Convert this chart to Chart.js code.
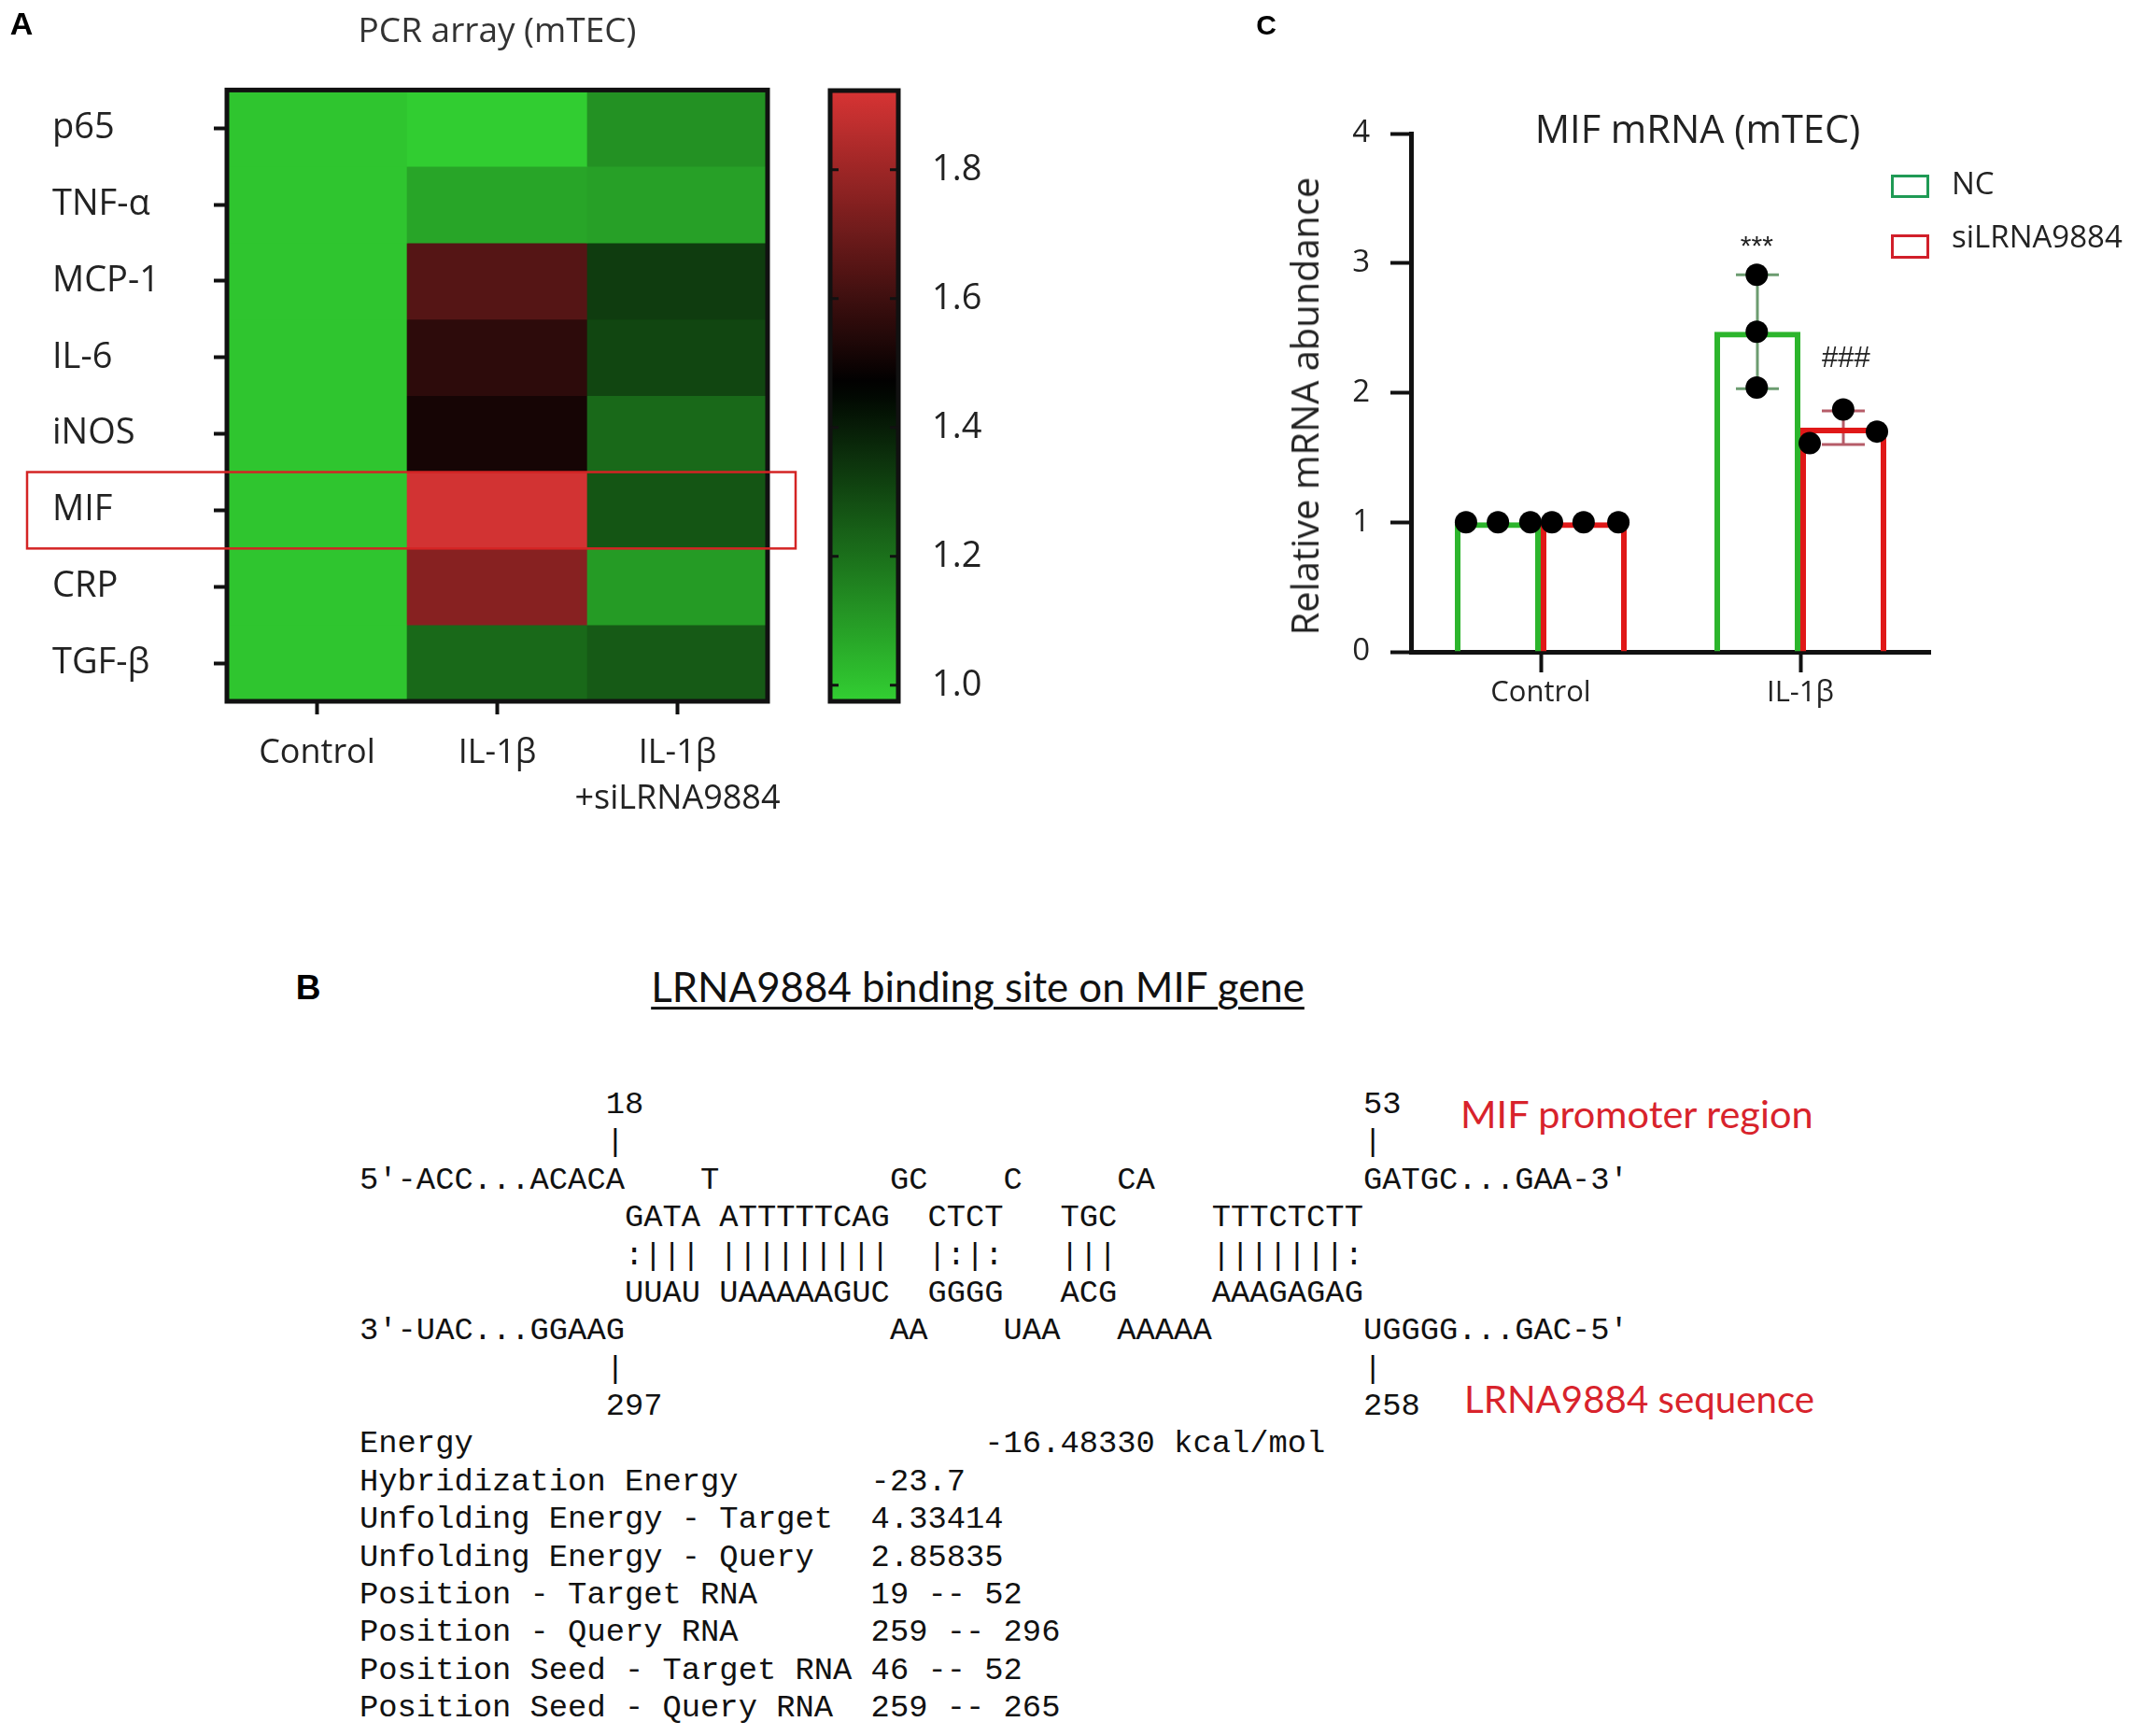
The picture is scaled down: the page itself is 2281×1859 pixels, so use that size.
<!DOCTYPE html>
<html>
<head>
<meta charset="utf-8">
<title>LRNA9884 / MIF figure</title>
<script src="https://cdn.jsdelivr.net/npm/chart.js@4.4.0/dist/chart.umd.min.js"></script>
<style>
  html, body { margin: 0; padding: 0; background: #fff; }
  #page { position: relative; width: 2281px; height: 1859px; overflow: hidden; background: #fff; }
  canvas { position: absolute; }
  .txt { position: absolute; white-space: nowrap; line-height: 1; color: #222; }
  .mid { transform: translateY(-50%); }
  .ctr { transform: translate(-50%, -50%); }
  .panel { font-family: 'Liberation Sans', Arial, sans-serif; font-weight: bold; color: #000; }
  .red { font-family: Lato, 'Open Sans', sans-serif; color: #d8232c; }
  .legbox { position: absolute; box-sizing: border-box; background: #fff; }
  #seq { position: absolute; left: 385px; top: 1163px; margin: 0; font-family: 'Liberation Mono', 'DejaVu Sans Mono', monospace;
         font-size: 33.8px; line-height: 40.37px; color: #111; }
</style>
</head>
<body>
<div id="page">
  <canvas id="heat" width="880" height="900" style="left:0;top:0"></canvas>
  <canvas id="cbar" width="200" height="900" style="left:880px;top:0"></canvas>
  <canvas id="mif" width="961" height="900" style="left:1320px;top:0"></canvas>
  <canvas id="mifDots" width="961" height="900" style="left:1320px;top:0"></canvas>

  <div class="txt panel ctr" style="left:23px;top:25px;font-size:34px">A</div>
  <div class="txt panel ctr" style="left:1356px;top:27px;font-size:30px">C</div>
  <div class="txt panel ctr" style="left:330px;top:1057px;font-size:37px">B</div>

  <div id="cTitle" class="txt ctr" style="left:1818px;top:138px;font-family:'Open Sans';font-size:35px">MIF mRNA (mTEC)</div>
  <div id="cYTitle" class="txt" style="left:1397px;top:435px;transform:translate(-50%,-50%) rotate(-90deg);
       font-family:'Open Sans';font-size:40px">Relative mRNA abundance</div>

  <div class="legbox" style="left:2025px;top:187px;width:41px;height:25px;border:3px solid #1f9a55"></div>
  <div class="txt mid" style="left:2090px;top:195px;font-family:'Open Sans';font-size:33px">NC</div>
  <div class="legbox" style="left:2025px;top:251px;width:41px;height:26px;border:3px solid #d11f2a"></div>
  <div class="txt mid" style="left:2090px;top:252px;font-family:'Open Sans';font-size:33px">siLRNA9884</div>

  <div id="bTitle" class="txt ctr" style="left:1047px;top:1057px;font-family:Lato,'Open Sans',sans-serif;font-size:42px;color:#111;
       text-decoration:underline;text-decoration-thickness:3px;text-underline-offset:5px">LRNA9884 binding site on MIF gene</div>
  <div id="redTop" class="txt red mid" style="left:1564px;top:1193px;font-size:38px">MIF promoter region</div>
  <div id="redBot" class="txt red mid" style="left:1568px;top:1498px;font-size:38px">LRNA9884 sequence</div>

  <pre id="seq"></pre>
</div>

<script>
// ---------- Panel A: PCR array heatmap (fold change) ----------
const heatRows = ['p65', 'TNF-α', 'MCP-1', 'IL-6', 'iNOS', 'MIF', 'CRP', 'TGF-β'];
const heatCols = ['Control', 'IL-1β', ['IL-1β', '+siLRNA9884']];
const heatControl = [1.00, 1.00, 1.00, 1.00, 1.00, 1.00, 1.00, 1.00];
const heatIL1b = [0.98, 1.075, 1.648, 1.563, 1.515, 1.912, 1.754, 1.218];
const heatIL1bSi = [1.123, 1.087, 1.325, 1.301, 1.218, 1.266, 1.099, 1.254];

// colour scale: green -> black -> red
const scaleMin = 0.975, scaleMid = 1.468, scaleMax = 1.923;
const scaleTicks = [1.0, 1.2, 1.4, 1.6, 1.8];
const lowRGB = [50, 207, 50], highRGB = [215, 52, 52];

// ---------- Panel C: MIF mRNA (mTEC) ----------
const groups = ['Control', 'IL-1β'];
const ncMean = [1.0, 2.47];
const ncSD = [0, 0.44];
const siMean = [1.0, 1.73];
const siSD = [0, 0.13];
const ncDots = [[1.0, 1.0, 1.0], [2.91, 2.47, 2.04]];
const siDots = [[1.0, 1.0, 1.0], [1.61, 1.87, 1.70]];
const ncJitter = [[-0.288, -0.165, -0.040], [-0.168, -0.168, -0.168]];
const siJitter = [[0.043, 0.165, 0.299], [0.036, 0.165, 0.295]];
const sigMarks = [
  { text: '***', x: 1 - 0.168, y: 3.12, size: 30 },
  { text: '###', x: 1 + 0.176, y: 2.26, size: 31 }
];

Chart.defaults.font.family = "'Open Sans', sans-serif";
Chart.defaults.color = '#222';
Chart.defaults.animation = false;

function heatColor(v) {
  let c, t;
  if (v <= scaleMid) {
    t = Math.min(1, (scaleMid - v) / (scaleMid - scaleMin));
    c = lowRGB;
  } else {
    t = Math.min(1, (v - scaleMid) / (scaleMax - scaleMid));
    c = highRGB;
  }
  return `rgb(${Math.round(c[0] * t)},${Math.round(c[1] * t)},${Math.round(c[2] * t)})`;
}

const frame = {
  id: 'frame',
  afterDatasetsDraw(chart, args, opts) {
    const { ctx, chartArea: a } = chart;
    ctx.save();
    ctx.strokeStyle = '#111';
    ctx.lineWidth = opts.width || 5;
    ctx.strokeRect(a.left, a.top, a.right - a.left, a.bottom - a.top);
    ctx.restore();
  }
};

// red box round the MIF row
const mifBox = {
  id: 'mifBox',
  afterDraw(chart) {
    const y = chart.scales.y, ctx = chart.ctx;
    const i = heatRows.indexOf('MIF');
    const top = y.getPixelForValue(i), bot = y.getPixelForValue(i + 1);
    ctx.save();
    ctx.strokeStyle = '#d42424';
    ctx.lineWidth = 2.5;
    ctx.strokeRect(29, top, 852 - 29, bot - top);
    ctx.restore();
  }
};

const heatSeries = [heatControl, heatIL1b, heatIL1bSi];

new Chart(document.getElementById('heat'), {
  type: 'bar',
  data: {
    labels: heatCols,
    datasets: heatRows.map((r, i) => ({
      label: r,
      data: heatSeries.map(() => 1),
      backgroundColor: heatSeries.map(s => heatColor(s[i])),
      borderWidth: 0,
      barPercentage: 1,
      categoryPercentage: 1
    }))
  },
  options: {
    responsive: false,
    layout: { padding: { left: 56, right: 58, top: 0, bottom: 0 } },
    plugins: {
      legend: { display: false },
      tooltip: { enabled: false },
      title: {
        display: true, text: 'PCR array (mTEC)', fullSize: false, color: '#333',
        font: { size: 37, weight: 'normal' }, padding: { top: 12, bottom: 40 }
      },
      frame: { width: 5 }
    },
    scales: {
      x: {
        stacked: true,
        grid: { drawOnChartArea: false, offset: false, tickLength: 14, tickWidth: 4, tickColor: '#111' },
        border: { display: false },
        ticks: { autoSkip: false, font: { size: 36, lineHeight: 1.36 }, padding: 17, maxRotation: 0 },
        afterFit(s) { s.height = 149; }
      },
      y: {
        type: 'linear', stacked: true, reverse: true, min: 0, max: 8,
        afterBuildTicks(s) { s.ticks = heatRows.map((_, i) => ({ value: i + 0.5 })); },
        grid: { drawOnChartArea: false, tickLength: 14, tickWidth: 4, tickColor: '#111' },
        border: { display: false },
        ticks: { autoSkip: false, crossAlign: 'far', font: { size: 38 }, callback: (v, i) => heatRows[i] },
        afterFit(s) { s.width = 187; }
      }
    }
  },
  plugins: [frame, mifBox]
});

// ---------- colour bar ----------
const cbarTicks = {
  id: 'cbarTicks',
  afterDraw(chart) {
    const { ctx, chartArea: a } = chart, y = chart.scales.y;
    ctx.save();
    ctx.strokeStyle = '#111';
    ctx.lineWidth = 3;
    scaleTicks.forEach(v => {
      const p = y.getPixelForValue(v);
      ctx.beginPath();
      ctx.moveTo(a.left, p); ctx.lineTo(a.left + 9, p);
      ctx.moveTo(a.right - 9, p); ctx.lineTo(a.right, p);
      ctx.stroke();
    });
    ctx.restore();
  }
};

new Chart(document.getElementById('cbar'), {
  type: 'bar',
  data: {
    labels: [''],
    datasets: [{
      data: [[scaleMin, scaleMax]],
      borderWidth: 0,
      barPercentage: 1,
      categoryPercentage: 1,
      backgroundColor(ctx) {
        const chart = ctx.chart;
        if (!chart.chartArea) return '#000';
        const y = chart.scales.y;
        const g = chart.ctx.createLinearGradient(0, y.getPixelForValue(scaleMin), 0, y.getPixelForValue(scaleMax));
        for (let k = 0; k <= 40; k++) {
          g.addColorStop(k / 40, heatColor(scaleMin + (scaleMax - scaleMin) * k / 40));
        }
        return g;
      }
    }]
  },
  options: {
    responsive: false,
    layout: { padding: { left: 9, top: 97, bottom: 149, right: 0 } },
    plugins: { legend: { display: false }, tooltip: { enabled: false }, frame: { width: 5 } },
    scales: {
      x: { display: false },
      y: {
        position: 'right', min: scaleMin, max: scaleMax,
        afterBuildTicks(s) { s.ticks = scaleTicks.map(v => ({ value: v })); },
        grid: { display: false },
        border: { display: false },
        ticks: { font: { size: 38 }, padding: 28, callback: v => v.toFixed(1) },
        afterFit(s) { s.width = 118; }
      }
    }
  },
  plugins: [frame, cbarTicks]
});

// ---------- Panel C bar chart ----------
const errorBars = {
  id: 'errorBars',
  beforeDatasetsDraw(chart) {
    const ctx = chart.ctx, y = chart.scales.y;
    [[0, ncMean, ncSD, '#6c9c70'], [1, siMean, siSD, '#b65c68']].forEach(([di, mean, sd, col]) => {
      chart.getDatasetMeta(di).data.forEach((bar, j) => {
        if (!sd[j]) return;
        const hi = y.getPixelForValue(mean[j] + sd[j]);
        const lo = y.getPixelForValue(mean[j] - sd[j]);
        ctx.save();
        ctx.strokeStyle = col;
        ctx.lineWidth = 3;
        ctx.beginPath();
        ctx.moveTo(bar.x, hi); ctx.lineTo(bar.x, lo);
        ctx.moveTo(bar.x - 23, hi); ctx.lineTo(bar.x + 23, hi);
        ctx.moveTo(bar.x - 23, lo); ctx.lineTo(bar.x + 23, lo);
        ctx.stroke();
        ctx.restore();
      });
    });
  }
};

new Chart(document.getElementById('mif'), {
  type: 'bar',
  data: {
    labels: groups,
    datasets: [
      { label: 'NC', data: ncMean, backgroundColor: 'transparent', borderColor: '#2cb52c', borderWidth: 6,
        barPercentage: 1, categoryPercentage: 0.662 },
      { label: 'siLRNA9884', data: siMean, backgroundColor: 'transparent', borderColor: '#e01818', borderWidth: 6,
        barPercentage: 1, categoryPercentage: 0.662 }
    ]
  },
  options: {
    responsive: false,
    layout: { padding: { left: 0, top: 143, right: 214, bottom: 0 } },
    plugins: { legend: { display: false }, tooltip: { enabled: false } },
    scales: {
      x: {
        grid: { drawOnChartArea: false, offset: false, tickLength: 22, tickWidth: 4, tickColor: '#111' },
        border: { width: 5, color: '#111' },
        ticks: { font: { size: 31 }, padding: 4 },
        afterFit(s) { s.height = 202; }
      },
      y: {
        min: 0, max: 4,
        ticks: { stepSize: 1, font: { size: 33 }, padding: 22 },
        grid: { drawOnChartArea: false, tickLength: 22, tickWidth: 4, tickColor: '#111' },
        border: { width: 5, color: '#111' },
        afterFit(s) { s.width = 191; }
      }
    }
  },
  plugins: [errorBars]
});

// replicate dots + significance marks, on a transparent chart with the same plot area
function dotData(dots, jitter) {
  const out = [];
  dots.forEach((vals, g) => vals.forEach((v, k) => out.push({ x: g + jitter[g][k], y: v })));
  return out;
}

const sigText = {
  id: 'sigText',
  afterDatasetsDraw(chart) {
    const ctx = chart.ctx, x = chart.scales.x, y = chart.scales.y;
    ctx.save();
    ctx.fillStyle = '#222';
    ctx.textAlign = 'center';
    ctx.textBaseline = 'middle';
    sigMarks.forEach(m => {
      ctx.font = `${m.size}px 'Liberation Sans', Arial, sans-serif`;
      ctx.fillText(m.text, x.getPixelForValue(m.x), y.getPixelForValue(m.y));
    });
    ctx.restore();
  }
};

new Chart(document.getElementById('mifDots'), {
  type: 'scatter',
  data: {
    datasets: [
      { label: 'NC', data: dotData(ncDots, ncJitter), pointRadius: 12, pointBackgroundColor: '#000', pointBorderWidth: 0, clip: false },
      { label: 'siLRNA9884', data: dotData(siDots, siJitter), pointRadius: 12, pointBackgroundColor: '#000', pointBorderWidth: 0, clip: false }
    ]
  },
  options: {
    responsive: false,
    layout: { padding: { left: 191, top: 143, right: 214, bottom: 202 } },
    plugins: { legend: { display: false }, tooltip: { enabled: false } },
    scales: {
      x: { type: 'linear', display: false, min: -0.5, max: 1.5, offset: false },
      y: { type: 'linear', display: false, min: 0, max: 4 }
    }
  },
  plugins: [sigText]
});

// ---------- Panel B: IntaRNA-style alignment text ----------
function row(parts) {
  let s = '';
  parts.forEach(([col, str]) => { s = s.padEnd(col) + str; });
  return s;
}
const seqLines = [
  row([[13, '18'], [53, '53']]),
  row([[13, '|'], [53, '|']]),
  row([[0, "5'-ACC...ACACA"], [18, 'T'], [28, 'GC'], [34, 'C'], [40, 'CA'], [53, "GATGC...GAA-3'"]]),
  row([[14, 'GATA'], [19, 'ATTTTTCAG'], [30, 'CTCT'], [37, 'TGC'], [45, 'TTTCTCTT']]),
  row([[14, ':|||'], [19, '|||||||||'], [30, '|:|:'], [37, '|||'], [45, '|||||||:']]),
  row([[14, 'UUAU'], [19, 'UAAAAAGUC'], [30, 'GGGG'], [37, 'ACG'], [45, 'AAAGAGAG']]),
  row([[0, "3'-UAC...GGAAG"], [28, 'AA'], [34, 'UAA'], [40, 'AAAAA'], [53, "UGGGG...GAC-5'"]]),
  row([[13, '|'], [53, '|']]),
  row([[13, '297'], [53, '258']]),
  row([[0, 'Energy'], [33, '-16.48330 kcal/mol']]),
  row([[0, 'Hybridization Energy'], [27, '-23.7']]),
  row([[0, 'Unfolding Energy - Target'], [27, '4.33414']]),
  row([[0, 'Unfolding Energy - Query'], [27, '2.85835']]),
  row([[0, 'Position - Target RNA'], [27, '19 -- 52']]),
  row([[0, 'Position - Query RNA'], [27, '259 -- 296']]),
  row([[0, 'Position Seed - Target RNA'], [27, '46 -- 52']]),
  row([[0, 'Position Seed - Query RNA'], [27, '259 -- 265']])
];
document.getElementById('seq').textContent = seqLines.join('\n');

// size a few labels to the widths they have in the figure
function fitWidth(id, w) {
  const el = document.getElementById(id);
  const fs = parseFloat(getComputedStyle(el).fontSize);
  el.style.fontSize = (fs * w / el.offsetWidth) + 'px';
}
fitWidth('bTitle', 700);
fitWidth('redTop', 378);
fitWidth('redBot', 375);
fitWidth('cTitle', 349);
fitWidth('cYTitle', 491);
</script>
</body>
</html>
